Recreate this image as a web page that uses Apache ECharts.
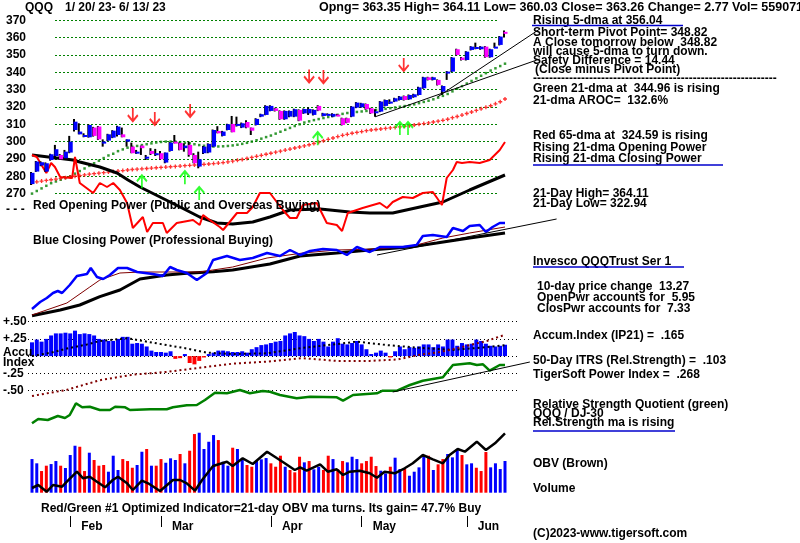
<!DOCTYPE html>
<html><head><meta charset="utf-8">
<script src="https://cdn.jsdelivr.net/npm/echarts/dist/echarts.min.js"></script>
<style>html,body{margin:0;padding:0;background:#fff}#c{width:800px;height:543px}</style>
</head><body><div id="c"></div>
<script>
// ---------------- DATA ----------------
const dates = ['1/20','1/23','1/24','1/25','1/26','1/27','1/30','1/31',
'2/1','2/2','2/3','2/6','2/7','2/8','2/9','2/10','2/13','2/14','2/15','2/16','2/17','2/21','2/22','2/23','2/24','2/27','2/28',
'3/1','3/2','3/3','3/6','3/7','3/8','3/9','3/10','3/13','3/14','3/15','3/16','3/17','3/20','3/21','3/22','3/23','3/24','3/27','3/28','3/29','3/30','3/31',
'4/3','4/4','4/5','4/6','4/10','4/11','4/12','4/13','4/14','4/17','4/18','4/19','4/20','4/21','4/24','4/25','4/26','4/27','4/28',
'5/1','5/2','5/3','5/4','5/5','5/8','5/9','5/10','5/11','5/12','5/15','5/16','5/17','5/18','5/19','5/22','5/23','5/24','5/25','5/26','5/30','5/31',
'6/1','6/2','6/5','6/6','6/7','6/8','6/9','6/12','6/13'];
const monthNames = ['','Jan','Feb','Mar','Apr','May','Jun'];

const opens = [275.5,282.7,286.2,282.7,289.4,291.7,292.3,290.4,293.7,306.7,
304.2,302.9,302.5,308.1,308.7,299,300.6,302.3,303.8,304.2,
300,297.1,293.7,297.7,290.4,294.6,292.3,293.3,287.9,294.6,
300,299.2,296.2,298.1,292.3,285.6,293.3,293.7,297.1,306.1,
303.3,306.7,310.2,309.5,308.1,311.3,308.1,309.6,314.4,315.4,
317.7,319.2,317.7,312.9,314.4,314.4,318.3,316.3,316.3,315.4,
320.6,314.8,315.4,314.4,315.6,313.5,313.5,314.4,319.6,319.8,
321.7,319.2,317,317.3,320.6,322.8,323.1,324,326.3,324.4,
325.6,326.9,330.8,337.1,335.6,335.6,328.8,339.9,340.4,353.3,
348.5,347.1,352.9,354.2,353.3,354.8,348.7,354.2,355.8,363.35];
const closes = [282,288.5,288.1,287.5,292.7,295.6,289.8,294.2,300,311.5,
305.8,303.8,309.6,303.3,301.3,300,304.2,306.3,308.7,302.5,
301.3,293.3,294.2,296.2,291.3,292.9,293.3,289.8,293.7,299.4,
299,295.2,297.7,292.3,287.5,289.8,297.1,298.7,306.7,304.8,
305.8,310,305.4,310.2,310.6,308.1,306.3,313.1,315.8,320.6,
320.6,317.7,312.9,317.7,317.7,318.7,312.1,318.8,318.8,318.3,
317.9,316.3,316,316,315.4,309.6,310.9,320.2,322.5,322.1,
318.7,316.3,317.5,323.1,324,323.1,325,326,324,326.9,
327.3,331.3,337.1,335.6,337.1,332.7,332.1,340.4,348.5,350,
347.1,351.9,354.8,354.6,354.8,348.7,353.3,354.8,360.6,363.26];
const highs = [282.5,288.8,288.6,288,293,298.1,292.8,295.2,303.3,313,
310.6,304.8,310,308.5,309,301.3,304.5,306.6,309.1,308.1,
301.3,299.4,295.2,297.7,292.3,296.2,295.8,294.6,293.7,299.7,
303.8,299.5,299,300,293.3,294.2,297.5,299,307,308.9,
306.2,310.3,314.8,314.4,311,312.3,308.1,313.5,316.1,321,
321,319.5,318,318,318,319,318.6,319.1,319.8,318.6,
321,316.6,316.3,316.3,316,313.8,313.8,320.5,322.8,322.4,
322,319.5,318.7,323.4,324.3,324.4,325.3,326.3,326.6,327.2,
327.6,331.6,337.4,337.4,337.4,335.9,332.4,340.7,348.8,353.6,
348.8,352.2,355.1,357.1,355.1,355.1,353.6,357.1,360.9,364.11];
const lows = [275,282.5,285.8,282.5,289,289.8,289.5,290,293.3,305.8,
304.2,302.5,302.3,302.9,301,297.1,300.3,302,302.9,302.5,
297.1,293.3,292.9,292.3,289.4,292.3,291.7,289.4,287.5,294.2,
299,295,294.2,291.3,287.5,284.6,292.9,293.3,296.8,304.8,
303,306.5,305.4,308.7,307.8,307.7,303.8,309.3,314.1,315.2,
317.5,317.4,312.6,312.6,314.1,314.1,311.8,316,315.4,315.1,
317.6,314.5,315.1,314.1,314.8,309.3,310.6,314.1,319.3,319.5,
318.4,316,314.4,317,320.3,321.7,322.8,323.7,323.7,324.1,
325.3,326.6,330.5,335.3,335.3,332.4,326.9,335.6,340.1,349.7,
346.8,346.8,352.6,353.3,353,348.4,348.4,354,355.5,360.03];

const ma21 = [270,271.5,273,274.5,276,277,278,279,280,281.5,
283,284.5,286,287.5,289,290.5,292,293,294.5,295.5,
296.5,297,297.5,298,298.5,299,299.5,299.8,300,300,
300,299.7,299.3,299,298.5,298,297.6,297.3,297.2,297.2,
297.3,297.5,297.8,298.2,298.7,299.3,300,300.8,301.7,302.6,
303.5,304.6,305.7,306.8,307.9,309,310,311,311.7,312.4,
313,313.6,314.2,314.8,315.4,316,316.5,316.8,317.1,317.4,
317.7,318,318.3,318.6,318.9,319.3,319.7,320.1,320.5,321,
321.5,322.2,322.9,323.6,324.4,325.4,326.4,327.5,329,330.5,
332,333.5,335,336.5,338,339.5,341,342.3,343.6,344.96];
const ma65 = [276.4,276.8,277.2,277.6,278,278.4,278.8,279.2,279.6,280,
280.4,280.8,281.2,281.5,281.8,282.1,282.4,282.7,283,283.3,
283.6,283.9,284.1,284.3,284.5,284.7,284.9,285.1,285.3,285.5,
285.7,285.9,286.1,286.3,286.5,286.7,286.9,287.1,287.3,287.6,
287.9,288.3,288.7,289.2,289.7,290.3,290.9,291.5,292.1,292.7,
293.3,293.9,294.5,295.1,295.7,296.3,296.9,297.5,298.2,298.9,
299.7,300.5,301.3,302.1,302.9,303.6,304.2,304.8,305.3,305.8,
306.3,306.7,307,307.3,307.6,307.9,308.2,308.5,308.8,309.2,
309.6,310,310.4,310.8,311.3,311.8,312.3,312.9,313.8,314.5,
315.3,316.2,317.1,318,318.9,319.8,320.7,321.8,323,324.59];

const redArrows = [[21.1,315.6],[25.7,313.4],[33.1,318],[58,337.9],[61,337.5],[77.8,344.5]];
const greenArrows = [[23,276.8],[32,279.2],[35,270.1],[59.8,301.7],[77,307.6],[78.7,307.6]];
const priceTrend1 = [[71.8,314.3],[106.3,347.7]];
const priceTrend2 = [[84.9,325.8],[106.3,365.0]];

// Opening power (red) and its average (black) - indicator units
const openPower = [[0,85],[1,83],[3,67],[4,77],[4.8,73],[5.9,63],[8.4,62],[9,83],[10,57],[12.8,47],[14.2,57],[15.7,53],[17,57],[18.4,50],[19.9,37],[21.1,12],[23.2,23],[24.1,8],[25.3,17],[27.4,17],[28.2,7],[30.3,17],[33.7,20],[35.1,15],[35.8,25],[37.2,20],[39.3,13],[40,10],[42.9,27],[45,27],[46.2,33],[47.7,47],[49.8,47],[52.5,30],[54,22],[55.4,22],[56.7,35],[59.6,37],[61.7,17],[63.8,15],[64.9,9],[66.1,27],[69.2,32],[72.8,37],[74.3,32],[75.5,38],[77.6,43],[79.7,42],[81.8,47],[83.9,48],[85.8,35],[86.8,62],[88.1,70],[88.9,78],[90,77],[91.6,78],[93.7,77],[95.8,80],[97.9,90],[99,98]];
const openPowerMA = [[0,85],[8.6,80],[10,78],[14.2,73],[17.8,67],[20.1,60],[22.6,53],[26.8,43],[31,33],[35.1,23],[38.7,17],[42,16],[46.2,18],[49.8,23],[54,30],[60.3,31],[66.5,28],[70.7,27],[75.5,27],[81.2,33],[86,38],[91.6,50],[99,65]];
// Closing power (blue) and averages
const closePower = [[0,11],[1.7,18],[3.1,22],[4.4,27],[5.4,29],[6.3,27],[7.9,35],[9.4,44],[11.5,46],[12.3,52],[13.6,43],[14.9,41],[16.3,45],[18,52],[19.9,52],[22,48],[25.3,46],[27.4,44],[28.9,53],[30.3,50],[32.4,47],[34.5,40],[36.6,47],[37.9,60],[40.8,64],[43.5,60],[46.2,62],[49.2,67],[51.9,64],[54,70],[56.1,65],[58.2,69],[60.9,71],[63.8,70],[65.9,65],[68,73],[70.7,68],[72.8,73],[77.6,73],[80.5,75],[81.8,84],[83.9,85],[86.8,83],[88.1,92],[90.2,89],[91.6,94],[93.7,95],[95,88],[96.4,93],[97.9,97],[99,97]];
const closePowerMA21 = [[0,5],[7.3,17],[12.1,33],[14.2,40],[18.4,47],[22.6,48],[28.2,48],[35.1,48],[42,53],[49.2,62],[56.7,67],[63.8,70],[72.2,71],[79.7,74],[86,82],[91.6,87],[99,93]];
const closePowerMA65 = [[0,4.3],[5.9,10],[10,15],[14.2,23.3],[18.4,30],[22.6,41],[28.2,45],[32.4,46.7],[37.9,48.3],[42,50],[49.8,56],[56.1,64],[63.8,67],[70.7,70],[79.1,73],[84.7,77],[91.6,82],[99,87]];
const cpTrend = [[72.2,65],[109.8,101]];

// Accumulation index
const accum = [.20,.24,.21,.25,.30,.33,.33,.34,.33,.37,
.32,.33,.32,.30,.25,.24,.22,.22,.25,.28,
.28,.18,.19,.18,.14,.08,.06,.06,.05,.07,
-.04,-.03,.03,-.10,-.12,-.07,-.02,.03,.05,.08,
.08,.07,.06,.06,.07,.05,.10,.13,.16,.17,
.19,.21,.22,.30,.33,.35,.30,.29,.25,.22,
.25,.21,.14,.21,.26,.18,.17,.19,.22,.17,
.10,.03,.05,.08,.05,-.02,.07,.14,.10,.13,
.12,.14,.17,.17,.13,.17,.14,.24,.24,.15,
.19,.17,.18,.24,.22,.18,.15,.14,.15,.165];
const accumMA = [[0,0],[4,0.05],[7.3,0.11],[11.5,0.17],[14.2,0.22],[19.9,0.26],[23.2,0.22],[28.2,0.16],[32.4,0.11],[36.6,0.05],[42,0.03],[49.2,0.04],[56.7,0.12],[63.8,0.175],[68,0.21],[74.3,0.16],[81.2,0.12],[88.1,0.09],[95.2,0.13],[99,0.16]];
const accumMA2 = [[0,-0.58],[7.3,-0.49],[14.2,-0.35],[21.1,-0.27],[28.2,-0.23],[35.1,-0.17],[42,-0.11],[49.2,-0.08],[56.7,-0.03],[63.8,-0.07],[70.7,-0.07],[76.4,-0.05],[81.2,0.02],[84.7,0.05],[88.1,0.1],[91.6,0.16],[95.2,0.22],[99,0.31]];

// Relative strength quotient
const rsQuot = [[0,6.7],[1.3,11],[3.3,10],[5.4,14],[6.9,12],[7.9,15],[9.2,26.7],[10.5,22.7],[12.1,23.3],[14.2,20],[16.3,20],[17.4,23.3],[19.5,22.7],[20.5,20],[24.7,20.7],[28.2,20.7],[29.5,22.7],[32.4,24.7],[34.5,25],[36.2,30],[38.3,37.3],[40.8,36.7],[43.5,40],[45.6,36.7],[48.3,39],[49.8,38.3],[51.9,35],[55.4,31.7],[58.2,33.3],[63.8,32.7],[65.1,29.3],[67.2,35],[72.2,36.7],[73.4,39.3],[76.4,39.3],[79.1,45],[81.8,49.3],[86,52.7],[88.1,65],[91.6,66.7],[93.1,65],[94.4,65.7],[95.8,59.3],[97.9,65],[99,65]];
const rsTrend = [[75.5,38],[104.2,68]];

// Volume (millions) and direction, OBV
const vols = [59.3,51.8,38.2,47.6,50.5,55.8,47.6,43.5,66.4,82.8,
81,38.2,70.5,57.6,47.6,48.8,37,65.2,40,59.3,
55.8,44,48.8,72.2,77,47.6,47.6,59.3,52.8,60.6,
57.6,68.2,51.8,74,103.4,105.7,77,89.8,101.6,92.8,
54.6,47.6,79.3,77,60.6,48.8,45.8,56.4,58.8,61.1,
51.8,45.8,65.2,45.8,40,35.9,63.4,53.5,55.8,41.2,
45.8,40,65.2,59.3,41.2,55.8,53.5,63.4,59.3,51.8,
55.8,63.4,47,38.8,34.1,45.8,61.7,41.7,41.7,29.9,
37,44.7,65.2,65.2,40,50,59.3,68.2,62.3,77,
66.4,50,51.8,44,38.2,71.7,44.7,51.8,41.7,55.9];
const volDir = 'bbrrbbrbbbrrbrrrbbbrrrbbrbrrbbbrbrrbbbbrbbrbbrrbbb' + 'rrrbrrrbrbbrrbrrbbbrrrrbbrbbrbbbbrbrrbbbrbbrrrbbbb';
const obv = [[0,5],[1.3,8],[3.1,1.3],[4.4,8],[6.3,6.3],[7.3,11.3],[9.4,21.3],[10.7,14.7],[12.1,16.3],[13.6,11.3],[15.3,5.7],[16.9,13],[18,16.3],[19.9,9.7],[21.1,3],[23,12.3],[24.3,9.7],[26.8,2],[29.5,13],[31,13],[32.4,9.7],[34.1,2.3],[35.6,13],[37.9,27],[40.8,31.3],[42,27],[44.1,34.7],[46.2,29],[49.2,41.3],[51.3,34.7],[52.9,29.7],[55,23],[56.1,25.7],[57.5,22.3],[60.3,28.7],[61.9,21.3],[63.8,23.7],[65.1,18],[66.5,21.3],[68.6,22.3],[70.7,19.7],[72.2,15.3],[73.8,21.3],[75.9,19.7],[78,24.7],[79.7,29.7],[81.8,38],[83.9,33.7],[86,29.7],[87.4,38],[89.1,44],[90.6,41.3],[93.1,51.3],[95,43],[96.9,49.7],[99,59.7]];

// ---------------- CHART ----------------
const FF = '"Liberation Sans", Arial, sans-serif';
const FONT = 'bold 12px ' + FF;
const L = 32, R = 295, N = dates.length - 1;
const STEP = (800 - L - R) / N;      // px per trading day
const XEXT = 112;                    // extended x range for trend lines
const ACC_PX = 68.8;                 // px per 1.0 of accumulation index
const monthStarts = new Set();
dates.forEach((d, i) => { if (i > 0 && d.split('/')[0] !== dates[i-1].split('/')[0]) monthStarts.add(i); });

const ohlc = dates.map((d, i) => [i, opens[i], closes[i], lows[i], highs[i]]);

const grids = [
  {left:L, right:R, top:20.3, height:173.3},   // 0 price
  {left:55, right:303, top:20.3, height:173.3}, // 1 price gridlines
  {left:L, right:R, top:140, height:100},      // 2 opening power
  {left:L, right:R, top:220, height:100},      // 3 closing power
  {left:L, right:R, top:321.7, height:ACC_PX*1.1}, // 4 accum data (+.50 .. -.60)
  {left:28, right:283, top:321.7, height:ACC_PX},  // 5 accum scale
  {left:L, right:R, top:355, height:75},       // 6 RS
  {left:L, right:R, top:430.3, height:62.4},   // 7 volume
  {left:L, right:R, top:430, height:63},       // 8 OBV
  {left:L, right:R, top:480, height:47},       // 9 months
  {left:L, width:STEP*XEXT, top:20.3, height:173.3}, // 10 price trend lines
  {left:L, width:STEP*XEXT, top:210, height:110},    // 11 CP trend line
  {left:L, width:STEP*XEXT, top:355, height:75}      // 12 RS trend line
].map(g => Object.assign({outerBoundsMode:'none', containLabel:false}, g));

const xAxes = [];
for (let k = 0; k < 9; k++) xAxes.push({type:'value', gridIndex:k, min:0, max:N, show:false});
xAxes.push({type:'category', gridIndex:9, data:dates, boundaryGap:false,
  axisLine:{show:false},
  axisTick:{show:true, inside:true, length:11, lineStyle:{color:'#000', width:1}, interval:(i)=>monthStarts.has(i)},
  axisLabel:{interval:(i)=>monthStarts.has(i), hideOverlap:false,
    formatter:(v)=>monthNames[+v.split('/')[0]], color:'#000', fontWeight:'bold', fontSize:12, fontFamily:FF,
    margin:0, align:'left', verticalAlign:'middle', padding:[0,0,0,11]}
});
for (let k = 10; k < 13; k++) xAxes.push({type:'value', gridIndex:k, min:0, max:XEXT, show:false});

const hid = (k, mn, mx) => ({type:'value', gridIndex:k, min:mn, max:mx, show:false});
const yAxes = [
  {type:'value', gridIndex:0, min:270, max:370, interval:10, axisLine:{show:false}, axisTick:{show:false}, splitLine:{show:false},
   axisLabel:{color:'#000', fontWeight:'bold', fontSize:12, fontFamily:FF, margin:6, padding:[6,0,0,0]}},
  {type:'value', gridIndex:1, min:270, max:370, interval:10, axisLine:{show:false}, axisTick:{show:false}, axisLabel:{show:false},
   splitLine:{show:true, lineStyle:{color:'#008000', type:[2,2], width:1}}},
  hid(2, 0, 100), hid(3, 0, 100), hid(4, -0.6, 0.5),
  {type:'value', gridIndex:5, min:-0.5, max:0.5, interval:0.25, axisLine:{show:false}, axisTick:{show:false},
   axisLabel:{formatter:(v)=> Math.abs(v) < 1e-9 ? '' : (v > 0 ? '+' : '-') + '.' + String(Math.round(Math.abs(v)*100)).padStart(2,'0'),
     color:'#000', fontWeight:'bold', fontSize:12, fontFamily:FF, margin:25, align:'left', padding:[4,0,0,0]},
   splitLine:{show:true, lineStyle:{color:'#000', type:[1,3], width:1}}},
  hid(6, 0, 75), hid(7, 0, 110), hid(8, 0, 63), {type:'value', gridIndex:9, show:false},
  hid(10, 270, 370), hid(11, 0, 110), hid(12, 0, 75)
];

const line = (k, data, color, width, extra) => Object.assign({
  type:'line', xAxisIndex:k, yAxisIndex:k, data:data, showSymbol:false, symbol:'none', clip:false,
  lineStyle:{color:color, width:width}, silent:true, z:3
}, extra || {});

const series = [
  // price bars
  {type:'custom', xAxisIndex:0, yAxisIndex:0, data:ohlc, encode:{x:0, y:[1,2,3,4]}, z:4,
   renderItem:function(params, api){
     const x = api.value(0);
     const o = api.coord([x, api.value(1)]), c = api.coord([x, api.value(2)]);
     const l = api.coord([x, api.value(3)]), h = api.coord([x, api.value(4)]);
     const up = api.value(2) >= api.value(1);
     const top = Math.min(o[1], c[1]), bot = Math.max(o[1], c[1]);
     return {type:'group', children:[
       {type:'line', shape:{x1:h[0]-1, y1:h[1], x2:l[0]-1, y2:l[1]}, style:{stroke:'#000', lineWidth:2}},
       {type:'rect', shape:{x:o[0]-1.5, y:top, width:4, height:Math.max(bot-top, 2)}, style:{fill: up ? '#0000ff' : '#ff00ff'}}
     ]};
   }},
  {type:'scatter', xAxisIndex:0, yAxisIndex:0, data:ma21.map((v,i)=>[i,v]), symbol:'rect', symbolSize:2.5,
   itemStyle:{color:'#008000'}, z:2, silent:true},
  {type:'scatter', xAxisIndex:0, yAxisIndex:0, data:ma65.map((v,i)=>[i,v]),
   symbol:'path://M1,0H2V1H3V2H2V3H1V2H0V1H1Z', symbolSize:4, itemStyle:{color:'#ff0000'}, z:2, silent:true},
  line(10, priceTrend1, '#000', 1),
  line(10, priceTrend2, '#000', 1),
  {type:'scatter', xAxisIndex:0, yAxisIndex:0, data:redArrows, symbol:'path://M5,0L5,13M0,7L5,13L10,7', symbolSize:[10,13],
   itemStyle:{color:'rgba(0,0,0,0)', borderColor:'#ff0000', borderWidth:2}, z:5, silent:true},
  {type:'scatter', xAxisIndex:0, yAxisIndex:0, data:greenArrows, symbol:'path://M5,13L5,0M0,6L5,0L10,6', symbolSize:[10,13],
   itemStyle:{color:'rgba(0,0,0,0)', borderColor:'#00ff00', borderWidth:2}, z:5, silent:true},
  // power lines
  line(2, openPowerMA, '#000', 3),
  line(2, openPower, '#ff0000', 2),
  line(3, closePowerMA65, '#000', 3),
  line(3, closePowerMA21, '#800000', 1),
  line(3, closePower, '#0000ff', 2.5),
  line(11, cpTrend, '#000', 1),
  // accumulation
  {type:'bar', xAxisIndex:4, yAxisIndex:4, data:accum.map((v,i)=>[i,v]), barWidth:4, silent:true,
   itemStyle:{color:(p)=> p.value[1] >= 0 ? '#0000ff' : '#ff0000'}},
  line(4, accumMA, '#000', 2, {lineStyle:{color:'#000', width:2, type:[2,3]}}),
  line(4, accumMA2, '#800000', 2, {lineStyle:{color:'#800000', width:2, type:[2,3]}}),
  // relative strength
  line(6, rsQuot, '#008000', 2.5),
  line(12, rsTrend, '#000', 1),
  // volume + OBV
  {type:'bar', xAxisIndex:7, yAxisIndex:7, data:vols.map((v,i)=>[i,v]), barWidth:3, silent:true,
   itemStyle:{color:(p)=> volDir[p.dataIndex] === 'b' ? '#0000ff' : '#ff0000'}},
  line(8, obv, '#000', 2.5),
  {type:'line', xAxisIndex:9, yAxisIndex:9, data:[], silent:true}
];

const T = (x, y, text, extra) => ({type:'text', x:x, y:y, silent:true, z:10,
  style:Object.assign({text:text, font:FONT, fill:'#000', verticalAlign:'middle', align:'left'}, extra || {})});
const U = (x1, x2, y) => ({type:'line', silent:true, z:10, shape:{x1:x1, y1:y, x2:x2, y2:y}, style:{stroke:'#0000cc', lineWidth:1.5}});

const graphics = [
  T(25, 7.5, 'QQQ'),
  T(65, 7.5, '1/ 20/ 23- 6/ 13/ 23'),
  T(319, 7.5, 'Opng= 363.35 High= 364.11 Low= 360.03 Close= 363.26 Change= 2.77 Vol= 55907100', {font:'bold 12.5px ' + FF}),
  T(533, 21, 'Rising 5-dma at 356.04'), U(532, 683, 25.5),
  T(533, 33, 'Short-term Pivot Point= 348.82'),
  T(533, 42.5, 'A Close tomorrow below  348.82'),
  T(533, 51.7, 'will cause 5-dma to turn down.'),
  T(533, 61, 'Safety Difference = 14.44'),
  T(535, 70, '(Close minus Pivot Point)'),
  T(533, 79, '-'.repeat(61)),
  T(533, 89, 'Green 21-dma at  344.96 is rising'),
  T(533, 100.7, '21-dma AROC=  132.6%'),
  T(533, 136, 'Red 65-dma at  324.59 is rising'),
  T(533, 147.7, 'Rising 21-dma Opening Power'),
  T(533, 158.7, 'Rising 21-dma Closing Power'), U(533, 723, 165),
  T(533, 194, '21-Day High= 364.11'),
  T(533, 203.5, '21-Day Low= 322.94'),
  T(533, 261.7, 'Invesco QQQTrust Ser 1'), U(533, 684, 267),
  T(537, 287, '10-day price change  13.27'),
  T(537, 298, 'OpenPwr accounts for  5.95'),
  T(537, 309, 'ClosPwr accounts for  7.33'),
  T(533, 336, 'Accum.Index (IP21) =  .165'),
  T(533, 360.7, '50-Day ITRS (Rel.Strength) =  .103'),
  T(533, 375, 'TigerSoft Power Index =  .268'),
  T(533, 405, 'Relative Strength Quotient (green)'),
  T(533, 413.5, 'QQQ / DJ-30'),
  T(533, 423, 'Rel.Strength ma is rising'), U(533, 675, 431),
  T(533, 464, 'OBV (Brown)'),
  T(533, 489, 'Volume'),
  T(533, 534, '(C)2023-www.tigersoft.com'),
  T(6, 209.5, '- - -'),
  T(33, 206, 'Red Opening Power (Public and Overseas Buying)'),
  T(33, 241, 'Blue Closing Power (Professional Buying)'),
  T(3, 353, 'Accu'),
  T(3, 362.5, 'Index'),
  T(41, 509, 'Red/Green #1 Optimized Indicator=21-day OBV ma turns. Its gain= 47.7% Buy')
];

const chart = echarts.init(document.getElementById('c'), null, {renderer:'canvas'});
chart.setOption({
  animation:false,
  backgroundColor:'#ffffff',
  textStyle:{fontFamily:FF},
  grid:grids, xAxis:xAxes, yAxis:yAxes, series:series, graphic:graphics
});
</script>
</body></html>
